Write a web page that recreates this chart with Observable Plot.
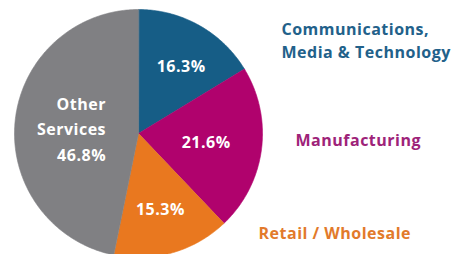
<!DOCTYPE html>
<html>
<head>
<meta charset="utf-8">
<script src="https://cdn.jsdelivr.net/npm/d3@7"></script>
<script src="https://cdn.jsdelivr.net/npm/@observablehq/plot@0.6"></script>
<style>
  html, body { margin: 0; padding: 0; background: #fff; }
  #chart svg { display: block; }
</style>
</head>
<body>
<div id="chart"></div>
<script>
// ---- data ----
const sectors = ["Communications,\nMedia & Technology", "Manufacturing", "Retail / Wholesale", "Other\nServices"];
const shares = [16.3, 21.6, 15.3, 46.8];
const sliceColors = ["#165d86", "#b0026d", "#e9781f", "#808083"];
const legendColors = ["#22618a", "#9e2379", "#e27a2b"];

// ---- layout (not data) ----
const labelRadius = [0.62, 0.55, 0.64, 0.49];
const labelDx = [5, 0, 0, 28];
const font = "'Open Sans', sans-serif";

const pie = d3.pie().sort(null).value(d => d.value)(
  sectors.map((name, i) => ({name, value: shares[i], i}))
);

// polygon vertices in unit-circle data space
const verts = [];
for (const a of pie) {
  const n = Math.max(8, Math.ceil((a.endAngle - a.startAngle) / 0.01));
  verts.push({name: a.data.name, x: 0, y: 0});
  for (let k = 0; k <= n; k++) {
    const t = a.startAngle + (a.endAngle - a.startAngle) * k / n;
    verts.push({name: a.data.name, x: Math.sin(t), y: Math.cos(t)});
  }
}

const labels = pie.map(a => {
  const m = (a.startAngle + a.endAngle) / 2;
  const r = labelRadius[a.data.i];
  const pct = a.data.value.toFixed(1) + "%";
  const text = a.data.i === 3 ? "Other\nServices\n" + pct : pct;
  return {x: r * Math.sin(m), y: r * Math.cos(m), text, i: a.data.i, dx: labelDx[a.data.i]};
});

const common = {fontSize: 16, fontWeight: 700};

const chart = Plot.plot({
  width: 455,
  height: 254,
  margin: 0,
  style: {background: "white", fontFamily: font, letterSpacing: "0.5px"},
  x: {domain: [-1, 1], range: [14, 262], axis: null},
  y: {domain: [-1, 1], range: [257, 9], axis: null},
  color: {domain: sectors, range: sliceColors},
  marks: [
    Plot.line(verts, {x: "x", y: "y", z: "name", fill: "name", stroke: "name", strokeWidth: 0.6, curve: "linear-closed"}),
    Plot.text(labels.filter(d => d.i === 0), {x: "x", y: "y", text: "text", fill: "white", ...common, dx: labelDx[0]}),
    Plot.text(labels.filter(d => d.i === 1 || d.i === 2), {x: "x", y: "y", text: "text", fill: "white", ...common}),
    Plot.text(labels.filter(d => d.i === 3), {x: "x", y: "y", text: "text", fill: "white", ...common, textAnchor: "end", lineHeight: 1.58, dx: labelDx[3]}),
    Plot.text([sectors[0]], {frameAnchor: "top-left", text: d => d, dx: 281, dy: 18.5, lineAnchor: "top", textAnchor: "start", fill: legendColors[0], ...common, lineHeight: 1.44}),
    Plot.text([sectors[1]], {frameAnchor: "top-left", text: d => d, dx: 295, dy: 134, lineAnchor: "top", textAnchor: "start", fill: legendColors[1], ...common, letterSpacing: "0.1px"}),
    Plot.text([sectors[2]], {frameAnchor: "top-left", text: d => d, dx: 258, dy: 227.5, lineAnchor: "top", textAnchor: "start", fill: legendColors[2], ...common})
  ]
});
document.getElementById("chart").appendChild(chart);
</script>
</body>
</html>
